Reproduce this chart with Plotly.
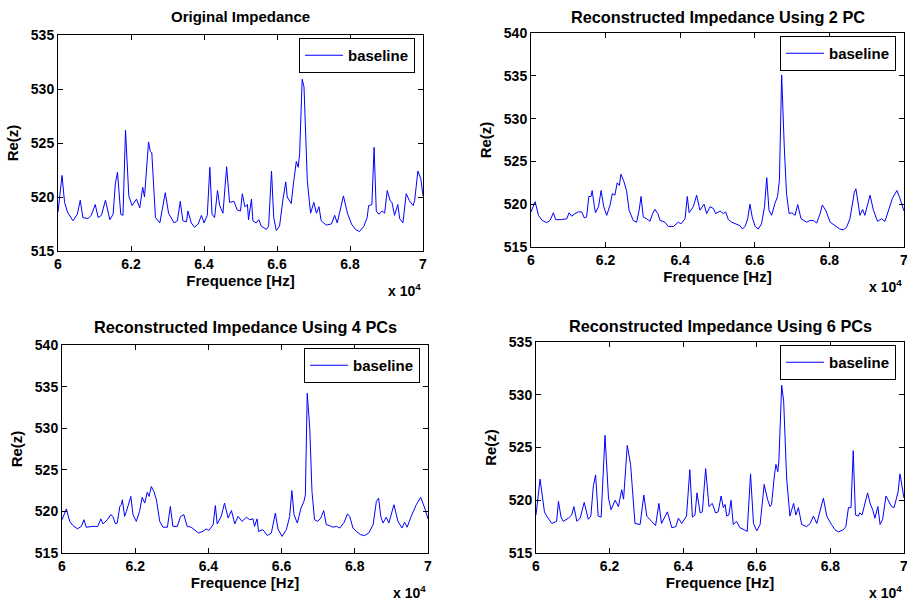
import plotly.graph_objects as go

W, H = 907, 601

# ---------------- data (frequency in units of 1e4 Hz, Re(z) in ohm) ----------------
freq_orig = [6.0, 6.011, 6.018, 6.026, 6.041, 6.053, 6.061, 6.068, 6.082, 6.091, 6.102, 6.110, 6.119, 6.130,
             6.142, 6.151, 6.157, 6.163, 6.172, 6.178, 6.185, 6.194, 6.203, 6.215, 6.224, 6.232, 6.237, 6.248,
             6.253, 6.257, 6.267, 6.279, 6.294, 6.303, 6.318, 6.327, 6.335, 6.342, 6.352, 6.356, 6.365, 6.374,
             6.384, 6.393, 6.400, 6.409, 6.416, 6.422, 6.429, 6.437, 6.443, 6.452, 6.462, 6.470, 6.482, 6.491,
             6.500, 6.505, 6.512, 6.519, 6.522, 6.530, 6.534, 6.543, 6.550, 6.557, 6.571, 6.577, 6.585, 6.591,
             6.598, 6.607, 6.616, 6.624, 6.628, 6.639, 6.646, 6.653, 6.658, 6.662, 6.669, 6.674, 6.683, 6.692,
             6.701, 6.708, 6.715, 6.721, 6.735, 6.749, 6.758, 6.765, 6.782, 6.793, 6.804, 6.815, 6.826, 6.838,
             6.847, 6.851, 6.860, 6.866, 6.872, 6.879, 6.888, 6.895, 6.902, 6.910, 6.915, 6.922, 6.931, 6.936,
             6.945, 6.954, 6.963, 6.973, 6.977, 6.986, 6.994, 7.0]
re_orig = [518.6, 522.0, 519.5, 518.6, 517.8, 518.4, 519.7, 518.1, 518.0, 518.3, 519.3, 518.1, 518.3, 519.7,
           517.9, 518.4, 521.2, 522.3, 518.4, 518.3, 526.2, 520.1, 519.2, 519.8, 519.0, 520.9, 520.0, 525.1,
           524.2, 524.1, 518.1, 517.6, 520.4, 518.5, 517.6, 517.8, 519.6, 517.8, 517.7, 518.7, 517.6, 517.2,
           517.5, 518.3, 517.6, 518.3, 522.75, 518.4, 518.1, 520.6, 519.2, 518.5, 522.8, 519.5, 519.6, 518.8,
           518.7, 520.3, 519.1, 519.3, 517.9, 519.8, 517.8, 517.6, 517.9, 517.3, 517.0, 517.3, 522.4, 518.1,
           516.9, 517.3, 519.7, 521.4, 520.0, 519.4, 521.5, 523.3, 522.75, 524.0, 530.9, 530.2, 521.5, 518.5,
           519.5, 518.5, 519.1, 517.8, 517.4, 517.5, 518.3, 517.6, 520.1, 518.5, 517.5, 517.0, 516.8, 517.3,
           518.1, 519.2, 519.3, 524.6, 518.7, 518.4, 518.7, 518.5, 520.6, 519.65, 519.5, 518.3, 519.3, 518.0,
           517.6, 520.3, 519.65, 519.2, 519.65, 522.4, 521.7, 520.1]

freq_2pc = [6.0, 6.011, 6.020, 6.030, 6.042, 6.051, 6.060, 6.066, 6.082, 6.096, 6.102, 6.109, 6.118, 6.127,
            6.136, 6.143, 6.149, 6.155, 6.161, 6.164, 6.170, 6.173, 6.181, 6.188, 6.195, 6.203, 6.212, 6.218,
            6.225, 6.231, 6.237, 6.241, 6.248, 6.256, 6.263, 6.274, 6.283, 6.290, 6.295, 6.301, 6.310, 6.319,
            6.326, 6.332, 6.340, 6.346, 6.359, 6.368, 6.382, 6.395, 6.402, 6.413, 6.419, 6.424, 6.435, 6.444,
            6.453, 6.464, 6.471, 6.480, 6.489, 6.495, 6.507, 6.516, 6.522, 6.529, 6.538, 6.551, 6.560, 6.567,
            6.574, 6.581, 6.587, 6.593, 6.601, 6.609, 6.618, 6.626, 6.632, 6.638, 6.645, 6.654, 6.661, 6.666,
            6.672, 6.679, 6.685, 6.692, 6.699, 6.708, 6.715, 6.724, 6.733, 6.739, 6.748, 6.757, 6.766, 6.775,
            6.781, 6.790, 6.802, 6.815, 6.828, 6.837, 6.846, 6.855, 6.861, 6.867, 6.871, 6.876, 6.882, 6.889,
            6.895, 6.909, 6.918, 6.929, 6.940, 6.949, 6.958, 6.969, 6.981, 6.989, 7.0]
re_2pc = [519.1, 520.3, 518.7, 518.1, 517.85, 518.1, 519.0, 518.2, 518.2, 518.3, 519.0, 518.6, 518.9, 519.1,
          519.1, 518.4, 518.5, 520.9, 520.9, 521.6, 519.7, 519.0, 519.7, 521.6, 519.7, 518.7, 519.9, 521.25,
          521.05, 522.5, 522.2, 523.5, 522.8, 521.6, 519.3, 518.1, 517.9, 519.3, 520.9, 518.5, 518.3, 518.0,
          518.9, 519.4, 518.9, 518.1, 517.9, 517.4, 517.4, 517.9, 517.7, 518.3, 520.9, 519.0, 519.7, 521.05,
          519.3, 520.0, 518.9, 519.7, 519.5, 518.9, 519.2, 518.9, 519.1, 518.2, 517.9, 517.7, 517.5, 517.1,
          517.4, 518.3, 520.0, 518.5, 517.4, 517.1, 517.7, 519.7, 523.1, 519.3, 518.7, 520.1, 520.9, 522.8,
          535.1, 526.7, 521.25, 518.9, 519.0, 518.7, 519.96, 518.3, 518.1, 517.9, 518.1, 518.1, 517.8, 518.9,
          519.9, 519.3, 517.9, 517.5, 517.1, 517.0, 517.3, 518.3, 519.7, 521.4, 521.8, 520.3, 518.7, 519.4,
          518.7, 521.05, 519.3, 518.0, 518.3, 518.0, 519.3, 520.7, 521.6, 520.7, 519.2]

freq_4pc = [6.0, 6.012, 6.021, 6.030, 6.042, 6.053, 6.060, 6.066, 6.085, 6.098, 6.106, 6.112, 6.124, 6.133,
            6.139, 6.146, 6.151, 6.158, 6.162, 6.165, 6.171, 6.176, 6.188, 6.194, 6.203, 6.212, 6.219, 6.226,
            6.233, 6.238, 6.244, 6.251, 6.258, 6.267, 6.276, 6.288, 6.296, 6.303, 6.315, 6.324, 6.333, 6.342,
            6.353, 6.361, 6.373, 6.385, 6.394, 6.401, 6.413, 6.419, 6.424, 6.435, 6.444, 6.454, 6.463, 6.472,
            6.481, 6.492, 6.504, 6.513, 6.522, 6.526, 6.533, 6.537, 6.549, 6.561, 6.572, 6.583, 6.590, 6.601,
            6.613, 6.622, 6.628, 6.634, 6.643, 6.653, 6.661, 6.665, 6.670, 6.677, 6.683, 6.690, 6.699, 6.707,
            6.715, 6.722, 6.731, 6.740, 6.750, 6.759, 6.771, 6.780, 6.786, 6.795, 6.804, 6.816, 6.827, 6.838,
            6.850, 6.859, 6.865, 6.871, 6.877, 6.886, 6.893, 6.907, 6.918, 6.929, 6.936, 6.943, 6.954, 6.968,
            6.980, 6.991, 7.0]
re_4pc = [519.0, 520.3, 518.8, 518.3, 517.9, 518.2, 519.0, 518.1, 518.2, 518.2, 519.1, 518.5, 519.0, 519.6,
          519.4, 518.5, 518.6, 520.6, 520.8, 521.4, 519.4, 520.0, 521.8, 519.6, 518.8, 520.0, 521.7, 521.0,
          522.3, 521.8, 523.0, 522.4, 521.4, 518.8, 518.1, 518.1, 520.6, 518.2, 518.2, 519.4, 519.6, 518.2,
          518.1, 517.8, 517.4, 517.6, 517.9, 517.7, 518.4, 520.7, 518.5, 519.4, 521.0, 519.2, 520.1, 518.5,
          519.4, 518.8, 519.3, 519.0, 519.1, 518.2, 519.1, 517.6, 517.8, 517.1, 517.4, 519.8, 517.9, 517.0,
          517.8, 519.4, 522.5, 519.6, 518.6, 520.4, 521.2, 522.0, 534.2, 530.0, 522.4, 519.0, 518.8, 519.2,
          520.1, 518.4, 518.3, 518.1, 518.2, 518.0, 518.7, 519.7, 519.4, 518.0, 517.6, 517.2, 517.1, 517.4,
          518.4, 521.2, 521.6, 519.4, 518.6, 519.3, 518.6, 520.8, 518.8, 518.0, 518.7, 518.1, 519.4, 520.8,
          521.7, 520.4, 519.1]

freq_6pc = [6.0, 6.011, 6.023, 6.029, 6.043, 6.056, 6.061, 6.068, 6.074, 6.088, 6.097, 6.103, 6.111, 6.120,
            6.131, 6.142, 6.149, 6.156, 6.162, 6.169, 6.177, 6.1875, 6.197, 6.204, 6.215, 6.224, 6.233, 6.238,
            6.248, 6.253, 6.257, 6.269, 6.283, 6.293, 6.301, 6.314, 6.325, 6.334, 6.341, 6.357, 6.369, 6.380,
            6.387, 6.396, 6.409, 6.418, 6.425, 6.432, 6.4375, 6.446, 6.452, 6.461, 6.470, 6.479, 6.488, 6.495,
            6.503, 6.509, 6.514, 6.518, 6.524, 6.530, 6.536, 6.545, 6.554, 6.566, 6.574, 6.583, 6.591, 6.600,
            6.609, 6.620, 6.629, 6.636, 6.640, 6.648, 6.652, 6.657, 6.660, 6.6676, 6.673, 6.681, 6.690, 6.700,
            6.706, 6.713, 6.722, 6.735, 6.745, 6.754, 6.763, 6.781, 6.790, 6.803, 6.8125, 6.8216, 6.835, 6.842,
            6.849, 6.856, 6.862, 6.868, 6.876, 6.880, 6.886, 6.901, 6.908, 6.915, 6.921, 6.929, 6.935, 6.942,
            6.951, 6.966, 6.973, 6.984, 6.989, 7.0]
re_6pc = [518.6, 522.0, 518.9, 518.5, 517.8, 518.0, 519.9, 518.4, 518.0, 518.3, 518.6, 519.4, 518.0, 518.3,
          519.8, 518.2, 518.5, 521.4, 522.4, 518.5, 518.4, 526.15, 520.2, 519.1, 520.0, 519.4, 521.0, 520.1,
          525.2, 524.2, 523.4, 517.8, 517.7, 520.5, 518.5, 518.0, 517.6, 519.7, 517.8, 518.9, 517.4, 517.5,
          518.3, 517.8, 518.5, 522.9, 518.4, 518.6, 520.7, 518.8, 518.9, 523.0, 519.4, 519.7, 518.8, 518.9,
          520.4, 519.3, 519.6, 518.5, 518.6, 520.0, 517.7, 518.0, 517.4, 517.2, 517.05, 522.5, 517.8, 517.1,
          517.7, 521.5, 520.1, 519.4, 519.6, 522.4, 523.4, 522.7, 523.7, 530.9, 529.4, 522.1, 518.5, 519.7,
          518.6, 519.3, 517.7, 517.5, 517.8, 518.5, 517.8, 520.2, 518.5, 517.7, 517.2, 517.0, 517.2, 517.5,
          519.3, 519.3, 524.7, 518.6, 518.5, 518.8, 518.6, 520.7, 519.7, 519.1, 518.3, 519.4, 517.7, 518.2,
          520.4, 519.4, 519.3, 520.8, 522.5, 520.2]

titles = ["Original Impedance", "Reconstructed Impedance Using 2 PC",
          "Reconstructed Impedance Using 4 PCs", "Reconstructed Impedance Using 6 PCs"]
series_name = "baseline"
x_ticks = [6.0, 6.2, 6.4, 6.6, 6.8, 7.0]
x_tick_text = ["6", "6.2", "6.4", "6.6", "6.8", "7"]
y_ranges = [(515, 535), (515, 540), (515, 540), (515, 535)]
x_label = "Frequence [Hz]"
y_label = "Re(z)"
x_exponent = "x 10<sup>4</sup>"

freqs = [freq_orig, freq_2pc, freq_4pc, freq_6pc]
values = [re_orig, re_2pc, re_4pc, re_6pc]

# ---------------- layout geometry (pixels) ----------------
boxes = [(58, 423, 35, 251), (531, 904, 33, 247), (62, 428, 345, 553), (536, 904, 342, 553)]
title_y = [17, 17, 327, 326]
title_size = [15, 16.3, 16.3, 16.3]

def px(x):
    return x / W

def py(y):
    return 1 - y / H

FONT = "Liberation Sans, Arial, Helvetica, sans-serif"

fig = go.Figure()
layout = dict(
    width=W, height=H,
    margin=dict(l=0, r=0, t=0, b=0, autoexpand=False),
    paper_bgcolor="white", plot_bgcolor="white",
    font=dict(family=FONT, color="black"),
    showlegend=True,
)
annotations = []
for i in range(4):
    x0, x1, y0, y1 = boxes[i]
    sfx = "" if i == 0 else str(i + 1)
    lname = "legend" if i == 0 else f"legend{i + 1}"
    fig.add_trace(go.Scatter(
        x=freqs[i], y=values[i], mode="lines", name=series_name,
        line=dict(color="#0000FF", width=1),
        xaxis="x" + sfx, yaxis="y" + sfx, legend=lname,
    ))
    ylo, yhi = y_ranges[i]
    layout["xaxis" + sfx] = dict(
        domain=[px(x0), px(x1)], anchor="y" + sfx,
        range=[6.0, 7.0], tickvals=x_ticks, ticktext=x_tick_text,
        ticks="inside", ticklen=5, tickcolor="black", tickwidth=1,
        showline=True, linecolor="black", linewidth=1, mirror="ticks",
        showgrid=False, zeroline=False, automargin=False,
        ticklabeloverflow="allow",
        tickfont=dict(size=14, family=FONT, color="black", weight="bold"),
        title=dict(text="<b>" + x_label + "</b>", font=dict(size=15, family=FONT), standoff=1),
    )
    layout["yaxis" + sfx] = dict(
        domain=[py(y1), py(y0)], anchor="x" + sfx,
        range=[ylo, yhi], tickvals=list(range(ylo, yhi + 1, 5)),
        ticks="inside", ticklen=5, tickcolor="black", tickwidth=1,
        showline=True, linecolor="black", linewidth=1, mirror="ticks",
        showgrid=False, zeroline=False, automargin=False,
        ticklabeloverflow="allow",
        tickfont=dict(size=14, family=FONT, color="black", weight="bold"),
        title=dict(text="<b>" + y_label + "</b>", font=dict(size=15, family=FONT), standoff=8),
    )
    layout[lname] = dict(
        x=px(x1 - 8), y=py(y0 + 3), xanchor="right", yanchor="top",
        bgcolor="white", bordercolor="black", borderwidth=1,
        font=dict(size=15, family=FONT, color="black", weight="bold"),
        itemwidth=38, tracegroupgap=0,
    )
    annotations.append(dict(
        text="<b>" + titles[i] + "</b>", x=px((x0 + x1) / 2), y=py(title_y[i]),
        xref="paper", yref="paper", xanchor="center", yanchor="middle",
        showarrow=False, font=dict(size=title_size[i], family=FONT, color="black"),
    ))
    annotations.append(dict(
        text="<b>" + x_exponent + "</b>", x=px(x1 - 37), y=py(y1 + 28),
        xref="paper", yref="paper", xanchor="left", yanchor="top",
        showarrow=False, font=dict(size=14, family=FONT, color="black"),
    ))

layout["annotations"] = annotations
fig.update_layout(**layout)
fig.write_html("out.html", config={"displayModeBar": False},
               post_script="document.body.style.margin='0px';")
